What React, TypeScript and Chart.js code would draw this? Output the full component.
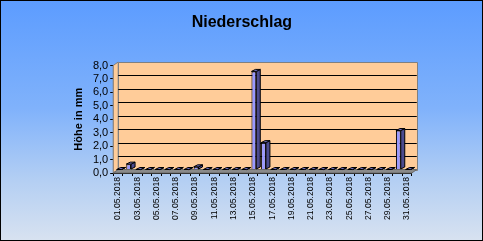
import { useEffect, useRef } from 'react';
import { Chart, registerables } from 'chart.js';

Chart.register(...registerables);

const days = [
  '01.05.2018', '02.05.2018', '03.05.2018', '04.05.2018', '05.05.2018', '06.05.2018',
  '07.05.2018', '08.05.2018', '09.05.2018', '10.05.2018', '11.05.2018', '12.05.2018',
  '13.05.2018', '14.05.2018', '15.05.2018', '16.05.2018', '17.05.2018', '18.05.2018',
  '19.05.2018', '20.05.2018', '21.05.2018', '22.05.2018', '23.05.2018', '24.05.2018',
  '25.05.2018', '26.05.2018', '27.05.2018', '28.05.2018', '29.05.2018', '30.05.2018',
  '31.05.2018',
];

const precipitation = [
  0, 0.4, 0, 0, 0, 0, 0, 0, 0.2, 0, 0, 0, 0, 0, 7.3, 2.0, 0, 0, 0, 0, 0, 0, 0, 0, 0, 0, 0, 0, 0, 2.9, 0,
];

const yMin = 0;
const yMax = 8;
const yStep = 1;

const TITLE = 'Niederschlag';
const Y_TITLE = 'Höhe in mm';

const DX = 5;
const DY = -3.5;
const BDX = 4;
const BDY = -2;

const FONT = "'Liberation Sans', Arial, sans-serif";

const threeD = {
  id: 'threeD',
  beforeDraw(chart: any) {
    const { ctx, width, height } = chart;
    const g = ctx.createLinearGradient(0, 0, 0, height);
    g.addColorStop(0, '#5c9cff');
    g.addColorStop(0.45, '#80b2fb');
    g.addColorStop(0.75, '#b4cff3');
    g.addColorStop(1, '#d8e2f0');
    ctx.save();
    ctx.fillStyle = g;
    ctx.fillRect(0, 0, width, height);
    ctx.strokeStyle = '#000';
    ctx.lineWidth = 1;
    ctx.strokeRect(0.5, 0.5, width - 1, height - 1);
    ctx.restore();
  },
  beforeDatasetsDraw(chart: any) {
    const { ctx, chartArea, scales } = chart;
    const { left, right, top, bottom } = chartArea;
    const y = scales.y;
    ctx.save();
    ctx.lineWidth = 1;
    // left wall
    ctx.fillStyle = '#ffcc99';
    ctx.strokeStyle = '#808080';
    ctx.beginPath();
    ctx.moveTo(left, top);
    ctx.lineTo(left + DX, top + DY);
    ctx.lineTo(left + DX, bottom + DY);
    ctx.lineTo(left, bottom);
    ctx.closePath();
    ctx.fill();
    ctx.stroke();
    // back wall
    ctx.beginPath();
    ctx.rect(Math.round(left + DX) + 0.5, Math.round(top + DY) + 0.5, Math.round(right - left), Math.round(bottom - top));
    ctx.fill();
    ctx.stroke();
    // gridlines
    ctx.strokeStyle = '#000';
    y.ticks.forEach((t: any) => {
      if (t.value <= yMin || t.value >= yMax) return;
      const py = Math.round(y.getPixelForValue(t.value) + DY) + 0.5;
      ctx.beginPath();
      ctx.moveTo(left + DX, py);
      ctx.lineTo(right + DX, py);
      ctx.stroke();
    });
    // floor
    ctx.fillStyle = '#8a8a8a';
    ctx.strokeStyle = '#6a6a6a';
    ctx.beginPath();
    ctx.moveTo(left, bottom);
    ctx.lineTo(right, bottom);
    ctx.lineTo(right + DX, bottom + DY);
    ctx.lineTo(left + DX, bottom + DY);
    ctx.closePath();
    ctx.fill();
    ctx.stroke();
    ctx.restore();
    ctx.save();
    ctx.translate(1, DY);
  },
  afterDatasetsDraw(chart: any) {
    const { ctx } = chart;
    const meta = chart.getDatasetMeta(0);
    ctx.lineWidth = 1;
    ctx.strokeStyle = '#000';
    meta.data.forEach((el: any) => {
      const { x, y, base, width } = el.getProps(['x', 'y', 'base', 'width'], true);
      const xr = x + width / 2;
      const xl = x - width / 2;
      // side
      ctx.fillStyle = '#4b4b8f';
      ctx.beginPath();
      ctx.moveTo(xr, y);
      ctx.lineTo(xr + BDX, y + BDY);
      ctx.lineTo(xr + BDX, base + BDY);
      ctx.lineTo(xr, base);
      ctx.closePath();
      ctx.fill();
      ctx.stroke();
      // top
      ctx.fillStyle = '#6f6fc4';
      ctx.beginPath();
      ctx.moveTo(xl, y);
      ctx.lineTo(xr, y);
      ctx.lineTo(xr + BDX, y + BDY);
      ctx.lineTo(xl + BDX, y + BDY);
      ctx.closePath();
      ctx.fill();
      ctx.stroke();
    });
    ctx.restore();
  },
};

export default function App() {
  const ref = useRef<HTMLCanvasElement | null>(null);

  useEffect(() => {
    document.body.style.margin = '0';
    const canvas = ref.current;
    if (!canvas) return;
    const chart = new Chart(canvas, {
      type: 'bar',
      data: {
        labels: days,
        datasets: [
          {
            data: precipitation,
            backgroundColor: '#9999ff',
            borderColor: '#000',
            borderWidth: 1,
            barPercentage: 0.5,
            categoryPercentage: 1,
            clip: false,
          } as any,
        ],
      },
      options: {
        responsive: false,
        animation: false,
        events: [],
        layout: { padding: { left: 72, right: 71.2, top: 0, bottom: 0 } },
        plugins: {
          legend: { display: false },
          tooltip: { enabled: false },
          title: {
            display: true,
            text: TITLE,
            color: '#000',
            font: { family: FONT, size: 16, weight: 'bold' },
            padding: { top: 13.4, bottom: 32.9 },
          },
        },
        scales: {
          x: {
            offset: true,
            grid: { display: true, drawOnChartArea: false, drawTicks: true, tickLength: 3, color: '#000', offset: true },
            border: { display: true, color: '#000' },
            ticks: {
              autoSkip: false,
              minRotation: 90,
              maxRotation: 90,
              padding: 1,
              color: '#000',
              font: { family: FONT, size: 8.6 },
              callback: (_v: any, i: number) => (i % 2 === 0 ? days[i] : ''),
            },
            afterFit: (s: any) => {
              s.height = 68;
            },
          },
          y: {
            min: yMin,
            max: yMax,
            grid: { display: true, drawOnChartArea: false, drawTicks: true, tickLength: 3, color: '#000' },
            border: { display: true, color: '#000' },
            ticks: {
              stepSize: yStep,
              autoSkip: false,
              padding: 2,
              color: '#000',
              font: { family: FONT, size: 11 },
              callback: (v: any) => Number(v).toFixed(1).replace('.', ','),
            },
            title: {
              display: true,
              text: Y_TITLE,
              color: '#000',
              font: { family: FONT, size: 11, weight: 'bold' },
              padding: { top: 0, bottom: 0 },
            },
            afterFit: (s: any) => {
              s.width = 41.2;
            },
          },
        },
      },
      plugins: [threeD],
    });
    return () => chart.destroy();
  }, []);

  return <canvas ref={ref} width={483} height={241} style={{ display: 'block' }} />;
}
